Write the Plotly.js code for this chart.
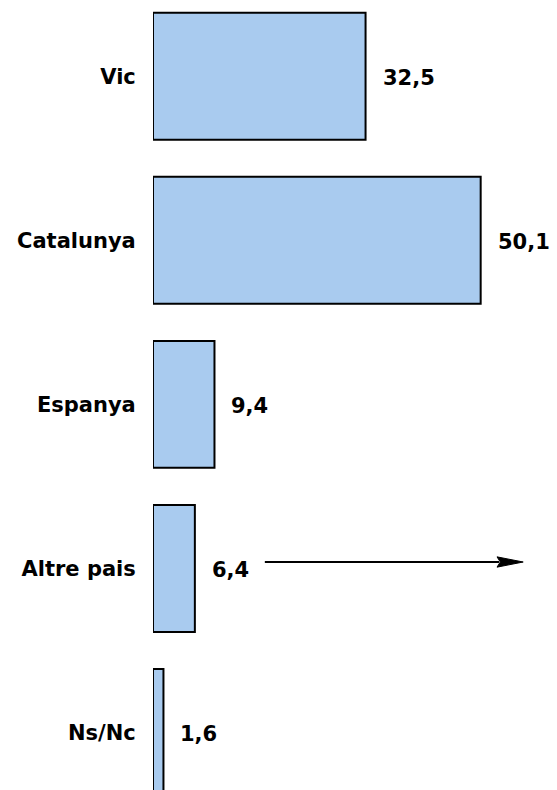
<!DOCTYPE html>
<html>
<head>
<meta charset="utf-8">
<script src="https://cdn.plot.ly/plotly-3.0.1.min.js"></script>
<style>html,body{margin:0;padding:0;background:#fff;}#chart{width:557px;height:790px;}</style>
</head>
<body>
<div id="chart"></div>
<script>
var categories = ["Vic", "Catalunya", "Espanya", "Altre pais", "Ns/Nc"];
var values = [32.5, 50.1, 9.4, 6.4, 1.6];
var valueLabels = ["32,5", "50,1", "9,4", "6,4", "1,6"];

var font = {family: "DejaVu Sans, Verdana, sans-serif", size: 21, color: "#000", weight: "bold"};

var trace = {
  type: "bar",
  orientation: "h",
  x: values,
  y: categories,
  marker: {color: "#a9cbef", line: {color: "#000", width: 2}},
  hoverinfo: "none"
};

var annotations = values.map(function (v, i) {
  return {
    x: v, y: categories[i], xref: "x", yref: "y",
    text: valueLabels[i],
    showarrow: false, xanchor: "left", yanchor: "middle",
    xshift: 15, yshift: -2,
    font: font
  };
});

// arrow beside "Altre pais"
var arrowY = 0.2886, arrowTail = 17.1, arrowBase = 52.6, arrowTip = 56.6, headHalf = 0.0065;
var shapes = [
  {type: "line", xref: "x", yref: "paper", x0: arrowTail, x1: arrowBase + 0.3, y0: arrowY, y1: arrowY,
   line: {color: "#000", width: 2}},
  {type: "path", xref: "x", yref: "paper",
   path: "M " + arrowBase + "," + (arrowY + headHalf) + " L " + arrowTip + "," + arrowY +
         " L " + arrowBase + "," + (arrowY - headHalf) + " L " + (arrowBase + 0.5) + "," + arrowY + " Z",
   fillcolor: "#000", line: {color: "#000", width: 1}}
];

var layout = {
  width: 557, height: 790,
  margin: {l: 153, r: 0, t: 0, b: 0, pad: 0},
  paper_bgcolor: "#fff", plot_bgcolor: "#fff",
  bargap: 0.226,
  showlegend: false,
  xaxis: {range: [0, 61.77], visible: false, fixedrange: true},
  yaxis: {
    range: [4.3506, -0.4648],
    showgrid: false, zeroline: false, showline: false,
    ticks: "outside", ticklen: 12, tickcolor: "rgba(0,0,0,0)",
    tickfont: font,
    tickvals: categories,
    ticktext: categories
  },
  annotations: annotations,
  shapes: shapes
};

Plotly.newPlot("chart", [trace], layout, {staticPlot: true, displayModeBar: false});
</script>
</body>
</html>
